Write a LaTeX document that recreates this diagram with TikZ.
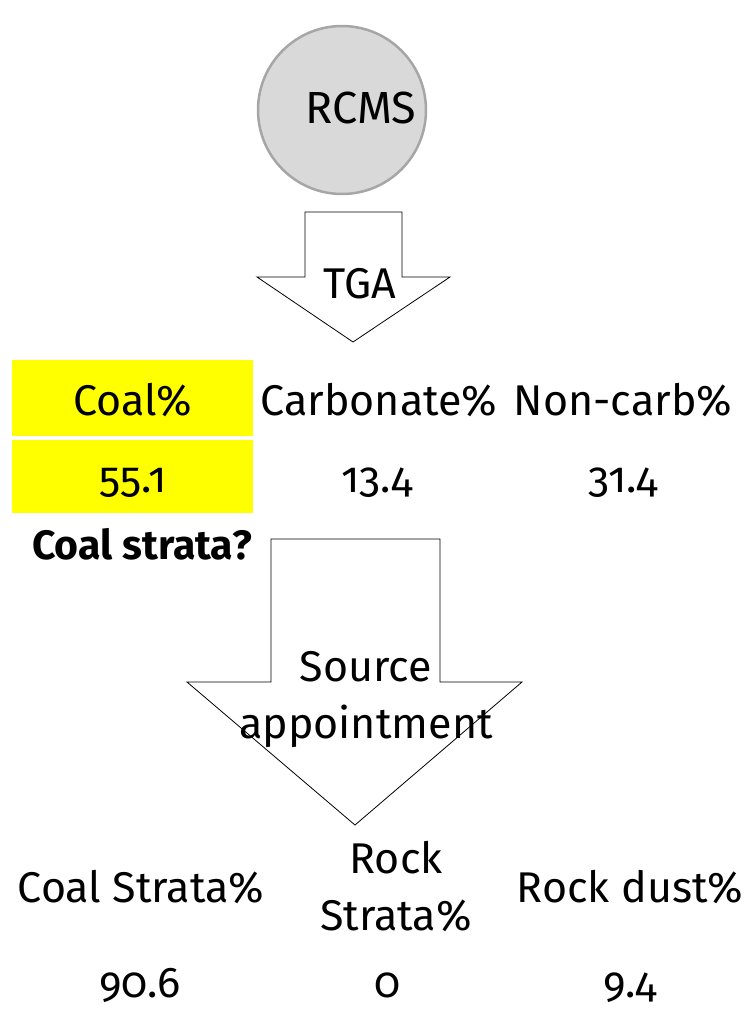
\documentclass[tikz,border=0pt]{standalone}
\usepackage{fontspec}
\setmainfont{Fira Sans}[Numbers=OldStyle]
\usetikzlibrary{positioning}
\definecolor{circlegray}{RGB}{217, 217, 217}
\definecolor{circleedge}{RGB}{166, 166, 166}
\definecolor{coalyellow}{RGB}{255, 255, 0}

\begin{document}
\begin{tikzpicture}[
    x=1pt, y=-1pt, % Pixel-like units, y grows downwards
    % Style for all plain labels
    label_text/.style={
        font=\fontsize{43}{57}\selectfont,
        inner sep=0pt,
        align=center,
        anchor=base
    },
    % Style for the yellow table cells
    cell/.style={
        rectangle,
        fill=coalyellow,
        draw=none,
        minimum width=241pt,
        inner sep=0pt
    },
    % Style for the block arrows
    block_arrow/.style={
        draw=black,
        fill=white,
        line width=0.8pt,
        line join=miter
    }
]
\useasboundingbox (0,0) rectangle (749,1010);

% Sample circle
\node[circle, draw=circleedge, fill=circlegray, line width=2.5pt, minimum size=168pt] (rcms) at (342,110) {};
\node[label_text, font=\fontsize{45}{57}\selectfont] (rcms_text) at (361,123) {RCMS};

% First block arrow
\draw[block_arrow] (305,212) -- (402,212) -- (402,277) -- (450,277) -- (353,342) -- (257,277) -- (305,277) -- cycle;
\node[label_text] (tga) at (360,298) {TGA};

% TGA results
\node[cell, minimum height=76pt] (coal_cell) at (132.5,398) {};
\node[cell, minimum height=73pt] (coal_val_cell) at (132.5,476.5) {};
\node[label_text] (coal) at (133,415) {Coal\%};
\node[label_text] (carbonate) at (379,415) {Carbonate\%};
\node[label_text] (noncarb) at (623,415) {Non-carb\%};
\node[label_text] (coal_val) at (133,492) {55.1};
\node[label_text] (carbonate_val) at (377,492) {13.4};
\node[label_text] (noncarb_val) at (623,492) {31.4};

% Question
\node[label_text, anchor=base west, font=\fontsize{41}{46}\selectfont\bfseries] (question) at (32,559) {Coal strata?};

% Second block arrow
\draw[block_arrow] (271,539) -- (440,539) -- (440,682) -- (522,682) -- (355,825) -- (187,682) -- (271,682) -- cycle;
\node[label_text] (source) at (366,738) {Source\\appointment};

% Source apportionment results
\node[label_text] (coal_strata) at (141,902) {Coal Strata\%};
\node[label_text] (rock_strata) at (396,930) {Rock\\Strata\%};
\node[label_text] (rock_dust) at (630,902) {Rock dust\%};
\node[label_text] (coal_strata_val) at (140,997) {90.6};
\node[label_text] (rock_strata_val) at (388,997) {0};
\node[label_text] (rock_dust_val) at (630,997) {9.4};

\end{tikzpicture}
\end{document}
